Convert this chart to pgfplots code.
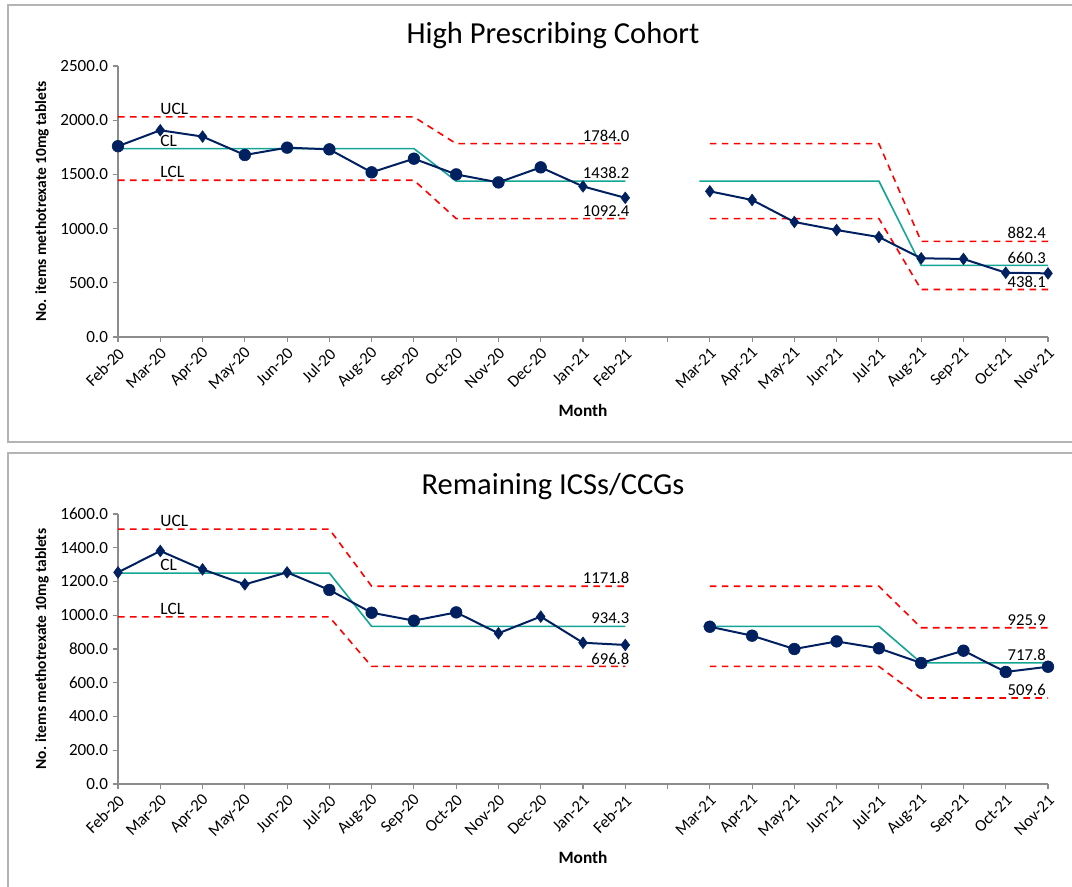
\documentclass[border=0pt]{standalone}
\usepackage{pgfplots}
\pgfplotsset{compat=1.18}
\usepackage{fontspec}
\setmainfont{Carlito}
\definecolor{navy}{RGB}{0,32,96}
\definecolor{clteal}{RGB}{20,165,150}
\definecolor{axgray}{RGB}{140,140,140}
\definecolor{framegray}{RGB}{180,180,180}
\tikzset{
  lbl/.style={anchor=south west, inner sep=1.5pt, font=\fontsize{13}{14}\selectfont},
  vlbl/.style={anchor=south east, inner sep=1.5pt, font=\fontsize{12.5}{13}\selectfont},
}
\pgfplotsset{
  spcstyle/.style={
    scale only axis, width=697.5pt,
    xmin=0, xmax=22,
    axis x line=bottom, axis y line=left,
    axis line style={axgray, line width=0.8pt, -},
    xtick={0,...,22},
    xticklabels={Feb-20,Mar-20,Apr-20,May-20,Jun-20,Jul-20,Aug-20,Sep-20,Oct-20,Nov-20,Dec-20,Jan-21,Feb-21,,Mar-21,Apr-21,May-21,Jun-21,Jul-21,Aug-21,Sep-21,Oct-21,Nov-21},
    xticklabel style={xshift=5pt, yshift=-4pt, rotate=45, anchor=east, font=\fontsize{12.5}{13}\selectfont},
    yticklabel style={font=\fontsize{12.8}{13}\selectfont},
    tick style={axgray, line width=0.8pt},
    tick align=outside, major tick length=4pt,
    /pgf/number format/assume math mode=true,
    /pgf/number format/.cd, fixed, fixed zerofill, precision=1, 1000 sep={},
  },
  /pgfplots/ylabel style={at={(axis description cs:-0.0817,0.5)}, anchor=center, font=\bfseries\fontsize{11.6}{12}\selectfont},
  /pgfplots/xlabel style={font=\bfseries\fontsize{13}{14}\selectfont},
  dat/.style={navy, line width=1.5pt, mark=none},
  circ/.style={only marks, mark=*, mark size=4.4pt, navy, mark options={fill=navy}},
  diam/.style={only marks, mark=diamond*, mark size=4.4pt, navy, mark options={fill=navy}},
  cl/.style={clteal, line width=1.2pt, mark=none},
  lim/.style={red, dashed, line width=1.2pt, mark=none, dash pattern=on 5pt off 4pt},
}
\begin{document}
\begin{tikzpicture}
\useasboundingbox (0,0) rectangle (804pt,-665.25pt);
\draw[framegray, line width=0.8pt] (6pt,-3.75pt) rectangle (810pt,-331.5pt);
\draw[framegray, line width=0.8pt] (6pt,-339.75pt) rectangle (810pt,-680pt);
\node[font=\fontsize{22.9}{26}\selectfont] at (414.75pt,-27pt) {High Prescribing Cohort};
\node[font=\fontsize{22.9}{26}\selectfont] at (414.75pt,-365.25pt) {Remaining ICSs/CCGs};

\begin{axis}[spcstyle, at={(88.5pt,-252.75pt)}, anchor=south west, height=203.25pt,
  ymin=0, ymax=2500, ytick={0,500,1000,1500,2000,2500},
  ylabel={No. items methotrexate 10mg tablets},
  xlabel={Month}, xlabel style={at={(axis description cs:0.5,-0.273)}, anchor=center},
  clip=false]
\addplot[lim] coordinates {(0,2030) (7,2030) (8,1784.0) (12,1784.0)};
\addplot[lim] coordinates {(0,1446) (7,1446) (8,1092.4) (12,1092.4)};
\addplot[cl] coordinates {(0,1738) (7,1738) (8,1438.2) (12,1438.2)};
\addplot[lim] coordinates {(14,1784.0) (18,1784.0) (19,882.4) (22,882.4)};
\addplot[lim] coordinates {(14,1092.4) (18,1092.4) (19,438.1) (22,438.1)};
\addplot[cl] coordinates {(13.75,1438.2) (18,1438.2) (19,660.3) (22,660.3)};
\addplot[dat] coordinates {(0,1760) (1,1907) (2,1849) (3,1679) (4,1747) (5,1731) (6,1519) (7,1645) (8,1500) (9,1426) (10,1565) (11,1389) (12,1284)};
\addplot[dat] coordinates {(14,1344) (15,1264) (16,1061) (17,987) (18,922) (19,726) (20,720) (21,593) (22,587)};
\addplot[circ] coordinates {(0,1760) (3,1679) (4,1747) (5,1731) (6,1519) (7,1645) (8,1500) (9,1426) (10,1565)};
\addplot[diam] coordinates {(1,1907) (2,1849) (11,1389) (12,1284)};
\addplot[diam] coordinates {(14,1344) (15,1264) (16,1061) (17,987) (18,922) (19,726) (20,720) (21,593) (22,587)};
\node[lbl] at (axis cs:0.95,2030) {UCL};
\node[lbl] at (axis cs:0.95,1738) {CL};
\node[lbl] at (axis cs:0.95,1446) {LCL};
\node[vlbl] at (axis cs:12.15,1784.0) {1784.0};
\node[vlbl] at (axis cs:12.15,1438.2) {1438.2};
\node[vlbl] at (axis cs:12.15,1092.4) {1092.4};
\node[vlbl] at (axis cs:22,882.4) {882.4};
\node[vlbl] at (axis cs:22,660.3) {660.3};
\node[vlbl] at (axis cs:22,438.1) {438.1};
\end{axis}

\begin{axis}[spcstyle, at={(88.5pt,-588pt)}, anchor=south west, height=202.5pt,
  ymin=0, ymax=1600, ytick={0,200,400,600,800,1000,1200,1400,1600},
  ylabel={No. items methotrexate 10mg tablets},
  xlabel={Month}, xlabel style={at={(axis description cs:0.5,-0.274)}, anchor=center},
  clip=false]
\addplot[lim] coordinates {(0,1510) (5,1510) (6,1171.8) (12,1171.8)};
\addplot[lim] coordinates {(0,990) (5,990) (6,696.8) (12,696.8)};
\addplot[cl] coordinates {(0,1250) (5,1250) (6,934.3) (12,934.3)};
\addplot[lim] coordinates {(14,1171.8) (18,1171.8) (19,925.9) (22,925.9)};
\addplot[lim] coordinates {(14,696.8) (18,696.8) (19,509.6) (22,509.6)};
\addplot[cl] coordinates {(13.85,934.3) (18,934.3) (19,717.8) (22,717.8)};
\addplot[dat] coordinates {(0,1254) (1,1381) (2,1272) (3,1183) (4,1254) (5,1150) (6,1015) (7,968) (8,1017) (9,893) (10,992) (11,837) (12,824)};
\addplot[dat] coordinates {(14,932) (15,879) (16,800) (17,845) (18,804) (19,717) (20,790) (21,664) (22,695)};
\addplot[diam] coordinates {(0,1254) (1,1381) (2,1272) (3,1183) (4,1254) (9,893) (10,992) (11,837) (12,824)};
\addplot[circ] coordinates {(5,1150) (6,1015) (7,968) (8,1017)};
\addplot[circ] coordinates {(14,932) (15,879) (16,800) (17,845) (18,804) (19,717) (20,790) (21,664) (22,695)};
\node[lbl] at (axis cs:0.95,1510) {UCL};
\node[lbl] at (axis cs:0.95,1250) {CL};
\node[lbl] at (axis cs:0.95,990) {LCL};
\node[vlbl] at (axis cs:12.15,1171.8) {1171.8};
\node[vlbl] at (axis cs:12.15,934.3) {934.3};
\node[vlbl] at (axis cs:12.15,696.8) {696.8};
\node[vlbl] at (axis cs:22,925.9) {925.9};
\node[vlbl] at (axis cs:22,717.8) {717.8};
\node[vlbl] at (axis cs:22,509.6) {509.6};
\end{axis}
\end{tikzpicture}
\end{document}
